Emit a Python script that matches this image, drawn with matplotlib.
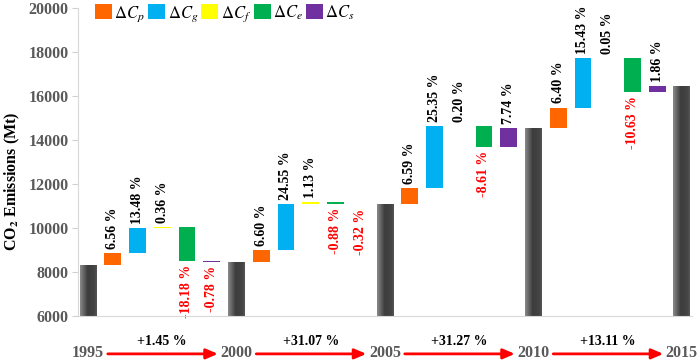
import numpy as np
import matplotlib
matplotlib.use("Agg")
import matplotlib.pyplot as plt
from matplotlib.patches import Patch
from matplotlib.colors import LinearSegmentedColormap

plt.rcParams['font.family'] = ['Liberation Serif', 'DejaVu Serif']
plt.rcParams['mathtext.fontset'] = 'stix'

years = ['1995', '2000', '2005', '2010', '2015']
totals = [8330, 8451, 11077, 14540, 16446]
factor_names = [r'$\Delta C_p$', r'$\Delta C_g$', r'$\Delta C_f$', r'$\Delta C_e$', r'$\Delta C_s$']
factor_colors = ['#FF6600', '#00B0F0', '#FFFF00', '#00B050', '#7030A0']
pct_1995_2000 = [6.56, 13.48, 0.36, -18.18, -0.78]
pct_2000_2005 = [6.60, 24.55, 1.13, -0.88, -0.32]
pct_2005_2010 = [6.59, 25.35, 0.20, -8.61, 7.74]
pct_2010_2015 = [6.40, 15.43, 0.05, -10.63, 1.86]
period_pcts = [pct_1995_2000, pct_2000_2005, pct_2005_2010, pct_2010_2015]
growth = [1.45, 31.07, 31.27, 13.11]

fig = plt.figure(figsize=(6.99, 3.63), dpi=100)
ax = fig.add_axes([0.1117, 0.1295, 0.878, 0.8485])

W = 0.68
ymin = 6000
grad = np.linspace(0, 1, 64).reshape(1, -1)
gcmap = LinearSegmentedColormap.from_list('g', [(0, '#8a8a8a'), (0.45, '#3c3c3c'), (0.85, '#444444'), (1, '#555555')])

def total_bar(x, v):
    b = ax.bar(x, v - ymin + 60, bottom=ymin - 60, width=W, color='#404040', zorder=2)[0]
    im = ax.imshow(grad, cmap=gcmap, aspect='auto', extent=(x - W / 2, x + W / 2, ymin - 60, v), zorder=3)
    im.set_clip_path(b)

pos = 0
tot_pos = []
for i, t in enumerate(totals):
    total_bar(pos, t)
    tot_pos.append(pos)
    if i < len(period_pcts):
        level = t
        for j, p in enumerate(period_pcts[i]):
            pos += 1
            d = p / 100 * t
            ax.bar(pos, d, bottom=level, width=W, color=factor_colors[j], zorder=2)
            top = max(level, level + d)
            bot = min(level, level + d)
            lab = f"{p:.2f} %"
            if p >= 0:
                ax.annotate(lab, (pos, top), xytext=(0, 3), textcoords='offset points',
                            rotation=90, ha='center', va='bottom', fontsize=10,
                            fontweight='bold', color='black')
            else:
                ax.annotate(lab, (pos, bot), xytext=(0, -3), textcoords='offset points',
                            rotation=90, ha='center', va='top', fontsize=10,
                            fontweight='bold', color='#FF0000')
            level += d
        pos += 1

ax.set_xlim(-0.4, tot_pos[-1] + 0.4)
ax.set_ylim(6000, 20000)
ax.set_yticks(np.arange(6000, 20001, 2000))
ax.set_xticks([])
for s in ['top', 'right']:
    ax.spines[s].set_visible(False)
ax.spines['bottom'].set_color('#D9D9D9')
ax.spines['left'].set_color('#D9D9D9')
ax.spines['bottom'].set_zorder(5)
ax.tick_params(axis='y', length=4, width=0.8, color='#D0D0D0', pad=3, labelsize=11.5, labelcolor='#595959')
for lbl in ax.get_yticklabels():
    lbl.set_fontweight('bold')
fig.text(12 / 699, 0.5, r'CO$_\mathbf{2}$ Emissions (Mt)', rotation=90, ha='center', va='center',
         fontsize=11.5, fontweight='bold', color='black')

tr = ax.get_xaxis_transform()
for x, y in zip(tot_pos, years):
    ax.text(x, -0.12, y, transform=tr, ha='center', va='center', fontsize=11.5,
            fontweight='bold', color='#595959', clip_on=False)
for i, g in enumerate(growth):
    x0, x1 = tot_pos[i], tot_pos[i + 1]
    ax.text((x0 + x1) / 2, -0.082, f"+{g:.2f} %", transform=tr, ha='center', va='center',
            fontsize=10, fontweight='bold', color='black', clip_on=False)
    ax.annotate('', xy=(x1 - 0.75, -0.123), xytext=(x0 + 0.8, -0.123), xycoords=tr, textcoords=tr,
                arrowprops=dict(arrowstyle='-|>,head_length=0.7,head_width=0.3', color='#FF0000', lw=2,
                                shrinkA=0, shrinkB=0), annotation_clip=False)

handles = [Patch(facecolor=c, edgecolor='none') for c in factor_colors]
ax.legend(handles, factor_names, ncol=5, frameon=False, loc='upper left',
          bbox_to_anchor=(0.028, 1.015), fontsize=12, handlelength=1.0, handleheight=1.05,
          handletextpad=0.15, columnspacing=0.2, borderaxespad=0, borderpad=0)

fig.savefig('out.png', dpi=100)
